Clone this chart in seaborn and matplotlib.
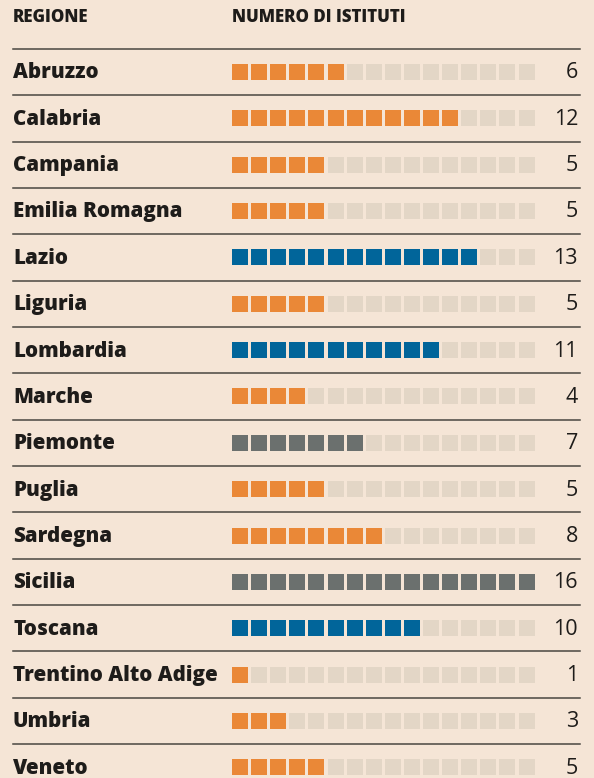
import pandas as pd
import matplotlib.pyplot as plt
import matplotlib.transforms as mtransforms
import seaborn as sns


regioni = ["Abruzzo", "Calabria", "Campania", "Emilia Romagna", "Lazio",
           "Liguria", "Lombardia", "Marche", "Piemonte", "Puglia",
           "Sardegna", "Sicilia", "Toscana", "Trentino Alto Adige",
           "Umbria", "Veneto"]
istituti = [6, 12, 5, 5, 13, 5, 11, 4, 7, 5, 8, 16, 10, 1, 3, 5]
gruppo = ["arancio", "arancio", "arancio", "arancio", "blu",
          "arancio", "blu", "arancio", "grigio", "arancio",
          "arancio", "grigio", "blu", "arancio",
          "arancio", "arancio"]
max_slot = 16

colori = {
    "arancio": "#EA8837",
    "blu": "#01659A",
    "grigio": "#6B706E",
    "vuoto": "#E3D6C6",
}
bg = "#F5E5D6"

rows = []
for i, (reg, n, g) in enumerate(zip(regioni, istituti, gruppo)):
    for k in range(max_slot):
        rows.append({
            "riga": i,
            "slot": k,
            "stato": g if k < n else "vuoto",
        })
df = pd.DataFrame(rows)

W, H, DPI = 594, 778, 100
fig = plt.figure(figsize=(W / DPI, H / DPI), dpi=DPI, facecolor=bg)
ax = fig.add_axes([0, 0, 1, 1])
ax.set_facecolor(bg)

# pixel mapping: slot k -> 240 + 19.1*k, row i -> 72 + 46.35*i
px_x0, px_dx = 240.0, 19.1
px_y0, px_dy = 72.0, 46.35
ax.set_xlim(-px_x0 / px_dx, (W - px_x0) / px_dx)
ax.set_ylim((H - px_y0) / px_dy, -px_y0 / px_dy)

sns.scatterplot(
    data=df, x="slot", y="riga", hue="stato", palette=colori,
    marker="s", s=(16 * 72 / DPI) ** 2, linewidth=0, legend=False, ax=ax,
)
ax.set_axis_off()

trans = mtransforms.blended_transform_factory(fig.transFigure, ax.transData)
plt.rcParams["font.family"] = ["Open Sans", "DejaVu Sans"]

# separators
for i in range(len(regioni)):
    ax.plot([13 / W, 580 / W], [i - 0.5, i - 0.5], transform=trans,
            color="#4A4641", lw=1.1)

for i, (reg, n) in enumerate(zip(regioni, istituti)):
    ax.text(13 / W, i + 0.02, reg, transform=trans, ha="left", va="center",
            fontsize=14.8, fontweight="heavy", color="#1E1C1A")
    ax.text(578 / W, i + 0.02, str(n), transform=trans, ha="right",
            va="center", fontsize=15.5, color="#1E1C1A")

fig.text(13 / W, 1 - 17 / H, "REGIONE", ha="left", va="center",
         fontsize=12.2, fontweight="heavy", color="#1E1C1A")
fig.text(232 / W, 1 - 17 / H, "NUMERO DI ISTITUTI", ha="left", va="center",
         fontsize=12.2, fontweight="heavy", color="#1E1C1A")

fig.savefig("out.png", dpi=DPI, facecolor=bg)
